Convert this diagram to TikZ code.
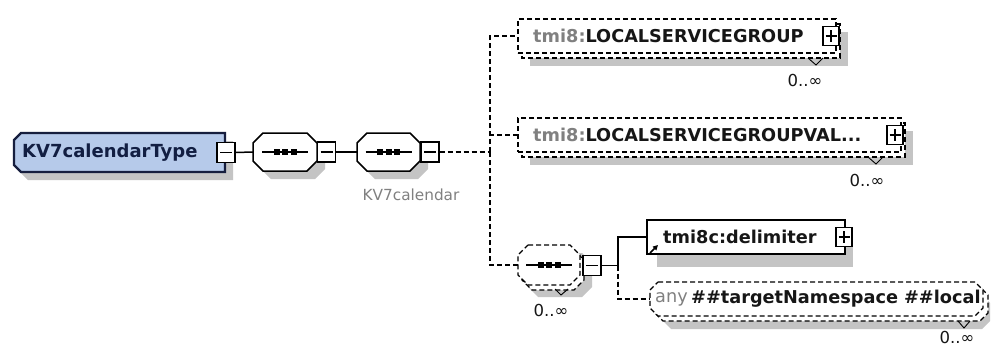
\documentclass[tikz,border=0pt]{standalone}
\usepackage{fontspec}
\setmainfont{DejaVu Sans}
\usetikzlibrary{calc,arrows.meta}
\definecolor{shad}{RGB}{196,196,196}
\definecolor{kvfill}{RGB}{182,202,234}
\definecolor{kvline}{RGB}{22,30,62}
\definecolor{kvtext}{RGB}{18,30,66}
\definecolor{lblgray}{RGB}{128,128,128}
\definecolor{txt}{RGB}{22,22,22}
\newcommand\chamf[5]{({#1+#5},#2) -- ({#3-#5},#2) -- (#3,{#2+#5}) -- (#3,{#4-#5}) -- ({#3-#5},#4) -- ({#1+#5},#4) -- (#1,{#4-#5}) -- (#1,{#2+#5}) -- cycle}
\newcommand\minussign[1]{\draw[line width=1.3pt] ($(#1.center)+(-6,0)$) -- ($(#1.center)+(6,0)$);}
\newcommand\plussign[1]{\draw[line width=1.3pt] ($(#1.center)+(-5.5,0)$) -- ($(#1.center)+(5.5,0)$) ($(#1.center)+(0,-6)$) -- ($(#1.center)+(0,6)$);}
\newcommand\seqdots[1]{\draw[line width=1.4pt] ($(#1.center)+(-23,0)$) -- ($(#1.center)+(23,0)$);
  \fill ($(#1.center)+(-11.5,-3)$) rectangle +(6,6);
  \fill ($(#1.center)+(-3,-3)$) rectangle +(6,6);
  \fill ($(#1.center)+(5.5,-3)$) rectangle +(6,6);}
\tikzset{
  anchorbox/.style={draw=none, fill=none, inner sep=0pt, rectangle},
  shadow/.style={fill=shad, draw=none},
  solidline/.style={draw=black, line width=1.5pt},
  dashline/.style={draw=black, line width=1.3pt, dash pattern=on 5pt off 3pt},
  pm/.style={draw=black, fill=white, line width=1.3pt, minimum width=18pt, minimum height=20pt, inner sep=0pt, rectangle},
  dashelem/.style={dashline, fill=white, inner sep=0pt, rectangle},
  solidelem/.style={solidline, fill=white, inner sep=0pt, rectangle},
  elemtext/.style={anchor=west, inner sep=0pt, font=\fontsize{17.7}{20}\selectfont\bfseries, text=txt},
  graytext/.style={inner sep=0pt, font=\fontsize{15.3}{17}\selectfont, text=lblgray},
  occ/.style={inner sep=0pt, font=\fontsize{16.5}{18}\selectfont, text=txt},
  vmark/.style={draw=black, line width=0.9pt},
}
\begin{document}
\begin{tikzpicture}[x=1pt,y=-1pt]
\useasboundingbox (0,0) rectangle (992,349);
\fill[white] (0,0) rectangle (992,349);

% ---- KV7calendarType
\fill[shadow] (28,141) -- (233,141) -- (233,180) -- (28,180) -- (21,173) -- (21,148) -- cycle;
\draw[kvline, line width=2.2pt, fill=kvfill] (21,133) -- (225,133) -- (225,172) -- (21,172) -- (14,165) -- (14,140) -- cycle;
\node[anchor=west, inner sep=0pt, font=\fontsize{18}{20}\selectfont\bfseries, text=kvtext] (kvt) at (22,153) {KV7calendarType};
\node[pm] (kvm) at (226,152.5) {}; \minussign{kvm}

% ---- sequence 1
\fill[shadow] \chamf{261}{141}{325}{179}{10};
\draw[solidline, fill=white] \chamf{253}{133}{317}{171}{10};
\node[anchorbox, minimum width=64pt, minimum height=38pt] (s1) at (285,152) {};
\seqdots{s1}
\node[pm] (s1m) at (326.5,152) {}; \minussign{s1m}

% ---- sequence 2
\fill[shadow] \chamf{365}{141}{428}{179}{10};
\draw[solidline, fill=white] \chamf{357}{133}{420}{171}{10};
\node[anchorbox, minimum width=63pt, minimum height=38pt] (s2) at (388.5,152) {};
\seqdots{s2}
\node[pm] (s2m) at (430,152) {}; \minussign{s2m}
\node[graytext] (kvlbl) at (411,195) {KV7calendar};

\draw[solidline] (kvm.east) -- (s1.west);
\draw[solidline] (s1m.east) -- (s2.west);
\coordinate (j1) at (490,152);
\draw[dashline] (s2m.east) -- (j1);

% ---- element 1
\fill[shadow] (530,32) rectangle (848,66);
\draw[dashline, fill=white] (522,24) rectangle (840,58);
\node[dashelem, minimum width=318pt, minimum height=34pt] (e1) at (677,36) {};
\node[elemtext] (e1t) at (533,36) {{\color{lblgray}tmi8:}LOCALSERVICEGROUP};
\node[pm, minimum width=16pt, minimum height=19pt] (e1p) at (831,36) {}; \plussign{e1p}
\draw[vmark] (808,58) -- (816,65) -- (823,58);
\node[occ] (e1o) at (805,80) {0..∞};

% ---- element 2
\fill[shadow] (530,131) rectangle (913,165);
\draw[dashline, fill=white] (522,123) rectangle (905,157);
\node[dashelem, minimum width=383pt, minimum height=34pt] (e2) at (709.5,135) {};
\node[elemtext] (e2t) at (533,135) {{\color{lblgray}tmi8:}LOCALSERVICEGROUPVAL...};
\node[pm, minimum width=16pt, minimum height=19pt] (e2p) at (895,135) {}; \plussign{e2p}
\draw[vmark] (868,157) -- (876,164) -- (883,157);
\node[occ] (e2o) at (867,180) {0..∞};

% ---- sequence 3 (optional, repeated)
\fill[shadow] \chamf{528}{253}{592}{297}{10};
\draw[dashline, fill=white] \chamf{522}{250}{584}{290}{10};
\draw[dashline, fill=white] \chamf{518}{245}{580}{285}{10};
\node[anchorbox, minimum width=62pt, minimum height=40pt] (s3) at (549,265) {};
\seqdots{s3}
\node[pm] (s3m) at (592,265.5) {}; \minussign{s3m}
\draw[vmark] (555,289) -- (561,295) -- (568,289);
\node[occ] (s3o) at (551,310) {0..∞};

\draw[dashline] (j1) |- (e1.west);
\draw[dashline] (j1) |- (e2.west);
\draw[dashline] (j1) |- (s3.west);

% ---- delimiter
\fill[shadow] (657,230) rectangle (853,267);
\node[solidelem, minimum width=198pt, minimum height=34pt] (d) at (746,237) {};
\node[elemtext] (dt) at (663,237) {tmi8c:delimiter};
\node[pm, minimum width=16pt, minimum height=19pt] (dp) at (844,237) {}; \plussign{dp}
\draw[line width=1.6pt, -{Triangle[length=5pt,width=5pt]}] (650,253) -- (658,245);

% ---- any
\fill[shadow] \chamf{663}{295}{990}{329}{8};
\draw[dashline, fill=white] \chamf{655}{287}{988}{321}{8};
\draw[dashline, fill=white] \chamf{650}{282}{983}{316}{8};
\node[anchorbox, minimum width=333pt, minimum height=34pt] (a) at (816.5,299) {};
\node[graytext, anchor=west, font=\fontsize{17.7}{20}\selectfont] (at1) at (655,299) {any};
\node[elemtext] (at2) at (691,299) {\#\#targetNamespace \#\#local};
\draw[vmark] (958,321) -- (964,328) -- (970,321);
\node[occ] (ao) at (957,337) {0..∞};

% ---- branch
\coordinate (b) at (618,265.5);
\draw[solidline] (s3m.east) -- (b);
\draw[solidline] (b) |- (d.west);
\draw[dashline] (b) |- (a.west);
\end{tikzpicture}
\end{document}
